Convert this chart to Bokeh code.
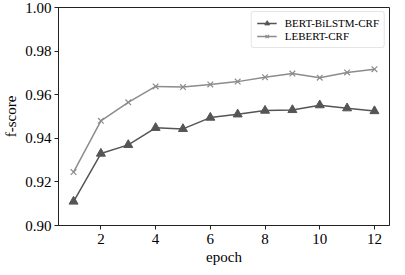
from bokeh.plotting import figure
from bokeh.embed import file_html
from bokeh.resources import INLINE
from bokeh.models import Range1d, FixedTicker, Legend, LegendItem, CustomJSTickFormatter

epochs = [1, 2, 3, 4, 5, 6, 7, 8, 9, 10, 11, 12]
bert_bilstm_crf = [0.911, 0.933, 0.937, 0.9448, 0.9443, 0.9495, 0.951, 0.9527, 0.953, 0.9552, 0.9538, 0.9525]
lebert_crf = [0.9245, 0.948, 0.9565, 0.9638, 0.9635, 0.9647, 0.966, 0.968, 0.9697, 0.9678, 0.9702, 0.9717]
x_ticks = [2, 4, 6, 8, 10, 12]
y_ticks = [0.90, 0.92, 0.94, 0.96, 0.98, 1.00]

FONT = "Liberation Serif"
c1 = "#555555"
c2 = "#8c8c8c"

p = figure(width=392, height=267, output_backend="svg", toolbar_location=None,
           x_range=Range1d(0.45, 12.55), y_range=Range1d(0.90, 1.00),
           min_border_left=10, min_border_right=3, min_border_top=7, min_border_bottom=3)
p.outline_line_color = "#222222"
p.outline_line_width = 1
p.grid.visible = False
p.background_fill_color = "white"

for ax in (p.xaxis[0], p.yaxis[0]):
    ax.major_label_text_font = FONT
    ax.major_label_text_font_size = "15px"
    ax.major_label_text_color = "black"
    ax.axis_label_text_font = FONT
    ax.axis_label_text_font_size = "15px"
    ax.axis_label_text_font_style = "normal"
    ax.axis_label_text_color = "black"
    ax.minor_tick_line_color = None
    ax.major_tick_out = 4
    ax.major_tick_in = 0
    ax.axis_line_color = "#222222"
    ax.major_tick_line_color = "#222222"

p.xaxis.ticker = FixedTicker(ticks=x_ticks)
p.yaxis.ticker = FixedTicker(ticks=y_ticks)
p.yaxis.formatter = CustomJSTickFormatter(code="return tick.toFixed(2);")
p.xaxis.axis_label = "epoch"
p.yaxis.axis_label = "f-score"
p.xaxis.axis_label_standoff = 2
p.yaxis.axis_label_standoff = 3
p.xaxis.major_label_standoff = 4
p.yaxis.major_label_standoff = 3

l1 = p.line(epochs, bert_bilstm_crf, line_color=c1, line_width=1.5)
m1 = p.scatter(epochs, bert_bilstm_crf, marker="triangle", size=9, fill_color=c1, line_color=c1)
l2 = p.line(epochs, lebert_crf, line_color=c2, line_width=1.5)
m2 = p.scatter(epochs, lebert_crf, marker="x", size=8, line_color=c2, line_width=1.2)

legend = Legend(items=[LegendItem(label="BERT-BiLSTM-CRF", renderers=[l1, m1]),
                       LegendItem(label="LEBERT-CRF", renderers=[l2, m2])],
                location="top_right")
legend.label_text_font = FONT
legend.label_text_font_size = "11px"
legend.label_text_color = "black"
legend.border_line_color = "#cccccc"
legend.border_line_width = 1
legend.border_radius = 3
legend.glyph_width = 20
legend.glyph_height = 12
legend.label_height = 12
legend.spacing = 1
legend.padding = 5
legend.margin = 4
legend.label_standoff = 8
p.add_layout(legend)

open("out.html", "w").write(file_html(p, INLINE))
